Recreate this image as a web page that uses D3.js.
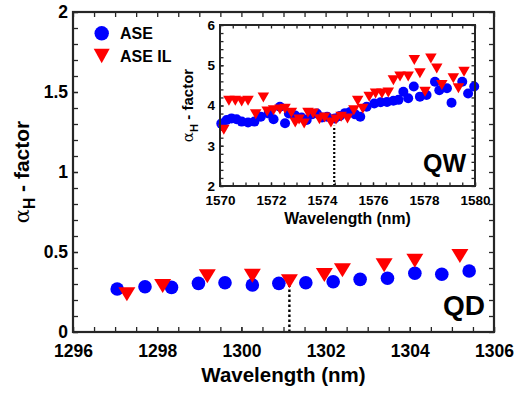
<!DOCTYPE html>
<html lang="en">
<head>
<meta charset="utf-8">
<title>alpha-H factor QD / QW</title>
<script src="https://cdn.jsdelivr.net/npm/d3@7"></script>
<style>
  body { margin: 0; background: #fff; }
  svg { display: block; }
  .tick text { font-family: "Liberation Sans", Arial, sans-serif; font-weight: bold; fill: #000; }
  .tick line { stroke: #262626; stroke-width: 1.3px; }
  .lbl { font-family: "Liberation Sans", Arial, sans-serif; font-weight: bold; fill: #000; }
</style>
</head>
<body>
<script>
// ---- data ----
// QD (main panel)
var qdAseWl    = [1297.05, 1297.71, 1298.34, 1298.98, 1299.61, 1300.26, 1300.89, 1301.53, 1302.18, 1302.82, 1303.47, 1304.12, 1304.76, 1305.41];
var qdAseAlpha = [0.269, 0.283, 0.279, 0.304, 0.308, 0.294, 0.304, 0.308, 0.314, 0.329, 0.336, 0.367, 0.361, 0.381];
var qdIlWl     = [1297.28, 1298.13, 1299.19, 1300.26, 1301.14, 1301.97, 1302.40, 1303.39, 1304.12, 1305.19];
var qdIlAlpha  = [0.236, 0.288, 0.348, 0.352, 0.317, 0.356, 0.386, 0.417, 0.446, 0.475];
var qdMarkWl = 1301.14, qdMarkTop = 0.33;

// QW (inset)
var qwAseWl    = [1570.05, 1570.26, 1570.45, 1570.65, 1570.85, 1571.10, 1571.35, 1571.60, 1571.90, 1572.10, 1572.35, 1572.55, 1572.70, 1572.95,
                  1573.20, 1573.40, 1573.60, 1573.80, 1574.00, 1574.20, 1574.50, 1574.70, 1574.90, 1575.10, 1575.30, 1575.50, 1575.75, 1576.05,
                  1576.30, 1576.55, 1576.80, 1577.00, 1577.19, 1577.38, 1577.60, 1577.84, 1578.10, 1578.43, 1578.60, 1578.90, 1579.08, 1579.50,
                  1579.73, 1579.97];
var qwAseAlpha = [3.55, 3.64, 3.68, 3.66, 3.60, 3.58, 3.60, 3.72, 3.80, 3.66, 3.97, 3.56, 3.80, 3.75,
                  3.70, 3.64, 3.78, 3.80, 3.70, 3.72, 3.68, 3.74, 3.81, 3.84, 3.78, 3.72, 3.97, 4.05,
                  4.08, 4.09, 4.12, 4.14, 4.34, 4.18, 4.47, 4.22, 4.26, 4.59, 4.38, 4.43, 4.07, 4.59,
                  4.30, 4.47];
var qwIlWl     = [1570.15, 1570.35, 1570.60, 1570.85, 1571.10, 1571.40, 1571.70, 1571.85, 1572.10, 1572.35, 1572.55, 1572.80, 1572.95, 1573.10,
                  1573.30, 1573.45, 1573.65, 1573.90, 1574.10, 1574.35, 1574.55, 1574.75, 1575.00, 1575.25, 1575.40, 1575.60, 1575.85, 1576.10,
                  1576.35, 1576.60, 1576.80, 1577.06, 1577.38, 1577.62, 1577.84, 1578.04, 1578.27, 1578.50, 1578.70, 1579.15, 1579.35, 1579.57];
var qwIlAlpha  = [3.40, 4.12, 4.12, 4.10, 4.12, 3.78, 4.20, 3.85, 3.88, 3.90, 3.92, 3.82, 3.58, 3.65,
                  3.55, 3.82, 3.80, 3.66, 3.70, 3.58, 3.65, 3.72, 3.68, 3.88, 4.12, 3.92, 4.22, 4.30,
                  4.30, 4.32, 4.63, 4.72, 4.72, 5.13, 4.80, 4.34, 5.17, 4.92, 4.51, 4.68, 4.43, 4.84];
var qwMarkWl = 1574.48, qwMarkTop = 3.5;

// ticks
var qdXTicks = [1296, 1298, 1300, 1302, 1304, 1306];
var qdYTicks = [0, 0.5, 1, 1.5, 2];
var qwXTicks = [1570, 1572, 1574, 1576, 1578, 1580];
var qwYTicks = [2, 3, 4, 5, 6];

var seriesNames = ["ASE", "ASE IL"];
var blue = "#0000ff", red = "#ff0000", axc = "#262626";

var W = 516, H = 395;
var svg = d3.select("body").append("svg").attr("width", W).attr("height", H);

function tri(w, h) {
  return "M" + (-w/2) + "," + (-h/2) + "L" + (w/2) + "," + (-h/2) + "L0," + (h/2) + "Z";
}

function panel(o) {
  var x = d3.scaleLinear().domain(o.xDom).range([o.left, o.right]);
  var y = d3.scaleLinear().domain(o.yDom).range([o.bottom, o.top]);
  var g = svg.append("g");

  g.append("rect").attr("x", o.left).attr("y", o.top)
    .attr("width", o.right - o.left).attr("height", o.bottom - o.top).attr("fill", "#fff");

  var xMinor = d3.range(o.xDom[0], o.xDom[1] + 1e-9, o.xMinor);
  var yMinor = d3.range(o.yDom[0], o.yDom[1] + 1e-9, o.yMinor);
  var fmt = function(d) { return d; };
  var ts = o.tick;

  function ax(sel, gen) { sel.call(gen).call(function(s) { s.select(".domain").remove(); }); }

  // bottom with labels
  g.append("g").attr("transform", "translate(0," + o.bottom + ")")
    .call(ax, d3.axisBottom(x).tickValues(xMinor).tickSize(-ts).tickFormat(""));
  g.append("g").attr("transform", "translate(0," + o.bottom + ")")
    .call(ax, d3.axisBottom(x).tickValues(o.xTicks).tickSize(-ts).tickPadding(o.xPad).tickFormat(fmt))
    .selectAll("text").style("font-size", o.fs + "px");
  g.append("g").attr("transform", "translate(0," + o.top + ")")
    .call(ax, d3.axisTop(x).tickValues(xMinor).tickSize(-ts).tickFormat(""));
  g.append("g").attr("transform", "translate(" + o.left + ",0)")
    .call(ax, d3.axisLeft(y).tickValues(yMinor).tickSize(-ts).tickFormat(""));
  g.append("g").attr("transform", "translate(" + o.left + ",0)")
    .call(ax, d3.axisLeft(y).tickValues(o.yTicks).tickSize(-ts).tickPadding(o.yPad).tickFormat(fmt))
    .selectAll("text").style("font-size", o.fs + "px");
  g.append("g").attr("transform", "translate(" + o.right + ",0)")
    .call(ax, d3.axisRight(y).tickValues(yMinor).tickSize(-ts).tickFormat(""));

  // dotted marker line
  g.append("line")
    .attr("x1", x(o.markWl)).attr("x2", x(o.markWl))
    .attr("y1", y(o.yDom[0])).attr("y2", y(o.markTop))
    .attr("stroke", "#000").attr("stroke-width", o.dotW).attr("stroke-dasharray", o.dash);

  // ASE circles
  g.append("g").selectAll("circle").data(d3.zip(o.aseWl, o.aseAlpha)).enter().append("circle")
    .attr("cx", function(d) { return x(d[0]); })
    .attr("cy", function(d) { return y(d[1]); })
    .attr("r", o.r).attr("fill", blue);

  // ASE IL triangles
  g.append("g").selectAll("path").data(d3.zip(o.ilWl, o.ilAlpha)).enter().append("path")
    .attr("transform", function(d) { return "translate(" + x(d[0]) + "," + y(d[1]) + ")"; })
    .attr("d", tri(o.tw, o.th)).attr("fill", red);

  // frame
  g.append("rect").attr("x", o.left).attr("y", o.top)
    .attr("width", o.right - o.left).attr("height", o.bottom - o.top)
    .attr("fill", "none").attr("stroke", axc).attr("stroke-width", o.frameW);

  // x label
  g.append("text").attr("class", "lbl")
    .attr("x", (o.left + o.right) / 2).attr("y", o.xlabY)
    .attr("text-anchor", "middle").style("font-size", o.xlabFs + "px")
    .text("Wavelength (nm)");

  // y label  alpha_H - factor
  var yl = g.append("text").attr("class", "lbl")
    .attr("transform", "translate(" + o.ylabX + "," + ((o.top + o.bottom) / 2) + ") rotate(-90)")
    .attr("text-anchor", "middle").style("font-size", o.ylabFs + "px");
  yl.append("tspan").style("font-family", "'DejaVu Serif', serif").style("font-weight", "normal").text("\u03b1");
  yl.append("tspan").attr("dy", o.ylabFs * 0.3).style("font-size", (o.ylabFs * 0.75) + "px").text("H");
  yl.append("tspan").attr("dy", -o.ylabFs * 0.3).text(" - factor");

  // panel tag
  g.append("text").attr("class", "lbl")
    .attr("x", o.right - 9).attr("y", o.tagY).attr("text-anchor", "end")
    .style("font-size", o.tagFs + "px").text(o.tag);

  return g;
}

panel({
  xDom: [1296, 1306], yDom: [0, 2], left: 73, right: 494, top: 12, bottom: 332,
  xTicks: qdXTicks, yTicks: qdYTicks, xMinor: 0.5, yMinor: 0.1, tick: 5,
  fs: 17.5, xPad: 13, yPad: 5, frameW: 2.2,
  aseWl: qdAseWl, aseAlpha: qdAseAlpha, ilWl: qdIlWl, ilAlpha: qdIlAlpha,
  r: 6.8, tw: 17, th: 14,
  markWl: qdMarkWl, markTop: qdMarkTop, dotW: 2.4, dash: "2.5,2.5",
  xlabY: 382, xlabFs: 20.5, ylabX: 29, ylabFs: 21,
  tag: "QD", tagY: 315, tagFs: 28
});

panel({
  xDom: [1570, 1580], yDom: [2, 6], left: 220, right: 475, top: 25, bottom: 186,
  xTicks: qwXTicks, yTicks: qwYTicks, xMinor: 0.5, yMinor: 0.2, tick: 3.5,
  fs: 13.5, xPad: 9.5, yPad: 5, frameW: 2,
  aseWl: qwAseWl, aseAlpha: qwAseAlpha, ilWl: qwIlWl, ilAlpha: qwIlAlpha,
  r: 5, tw: 11.5, th: 10,
  markWl: qwMarkWl, markTop: qwMarkTop, dotW: 2.2, dash: "2,2",
  xlabY: 224, xlabFs: 15.8, ylabX: 193, ylabFs: 15,
  tag: "QW", tagY: 172, tagFs: 25
});

// legend
var leg = svg.append("g");
leg.append("circle").attr("cx", 101.7).attr("cy", 33.3).attr("r", 7.2).attr("fill", blue);
leg.append("path").attr("transform", "translate(101.7,56)").attr("d", tri(16, 14.5)).attr("fill", red);
leg.selectAll("text.leg").data(seriesNames).enter().append("text")
  .attr("class", "lbl leg")
  .attr("x", 120).attr("y", function(d, i) { return 39 + i * 22.7; })
  .style("font-size", "16px").text(function(d) { return d; });
</script>
</body>
</html>
